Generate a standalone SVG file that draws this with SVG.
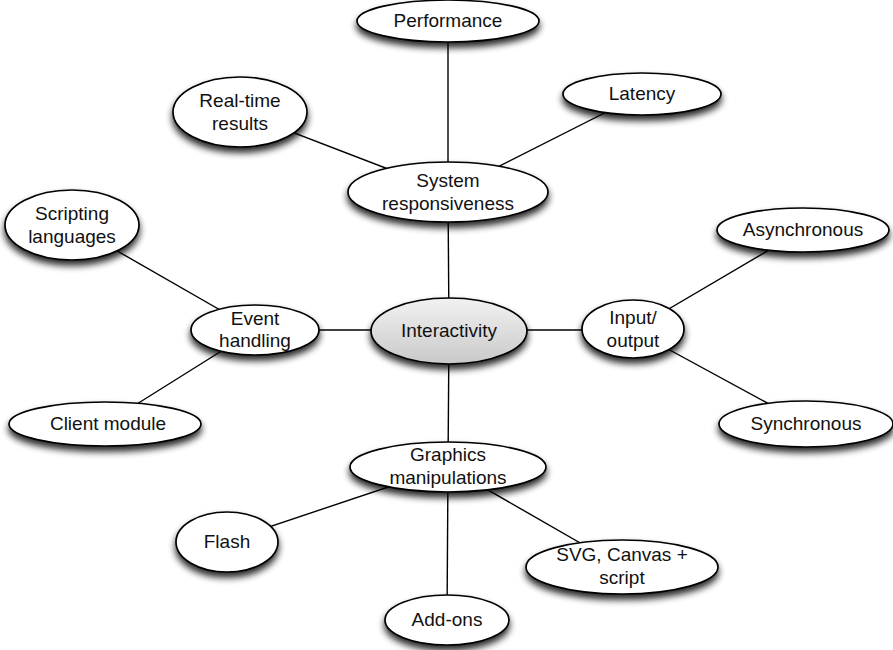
<svg xmlns="http://www.w3.org/2000/svg" width="893" height="650" viewBox="0 0 893 650">
  <defs>
    <filter id="shadow" x="-20%" y="-30%" width="140%" height="190%">
      <feGaussianBlur in="SourceAlpha" stdDeviation="3.5"/>
      <feOffset dx="0" dy="5" result="blur"/>
      <feComponentTransfer><feFuncA type="linear" slope="0.85"/></feComponentTransfer>
      <feMerge><feMergeNode/><feMergeNode in="SourceGraphic"/></feMerge>
    </filter>
    <linearGradient id="hub" x1="0" y1="0" x2="0" y2="1">
      <stop offset="0" stop-color="#f2f2f2"/>
      <stop offset="1" stop-color="#c9c9c9"/>
    </linearGradient>
  </defs>
  <style>
    .edge { stroke: #000; stroke-width: 1.4; fill: none; }
    .node ellipse { fill: #fff; stroke: #000; stroke-width: 1.7; filter: url(#shadow); }
    #interactivity ellipse { fill: url(#hub); }
    text { font-family: "Liberation Sans", Arial, sans-serif; font-size: 19px; fill: #111; text-anchor: middle; }
  </style>

  <g id="connectors">
    <line class="edge" x1="448" y1="20" x2="448" y2="192"/>
    <line class="edge" x1="240" y1="112" x2="448" y2="192"/>
    <line class="edge" x1="642" y1="94" x2="448" y2="192"/>
    <line class="edge" x1="448" y1="192" x2="449" y2="331"/>
    <line class="edge" x1="72" y1="225" x2="255" y2="330"/>
    <line class="edge" x1="105" y1="424" x2="255" y2="330"/>
    <line class="edge" x1="255" y1="330" x2="633" y2="330"/>
    <line class="edge" x1="633" y1="330" x2="803" y2="230"/>
    <line class="edge" x1="633" y1="330" x2="806" y2="424"/>
    <line class="edge" x1="449" y1="331" x2="448" y2="467"/>
    <line class="edge" x1="448" y1="467" x2="227" y2="541"/>
    <line class="edge" x1="448" y1="467" x2="622" y2="567"/>
    <line class="edge" x1="448" y1="467" x2="447" y2="620"/>
  </g>

  <g id="performance" class="node">
    <ellipse cx="448" cy="21" rx="91" ry="21"/>
    <text x="448" y="27">Performance</text>
  </g>
  <g id="realtime" class="node">
    <ellipse cx="240" cy="112" rx="67" ry="35"/>
    <text x="240" y="107">Real-time</text>
    <text x="240" y="130">results</text>
  </g>
  <g id="latency" class="node">
    <ellipse cx="642" cy="94" rx="79" ry="21"/>
    <text x="642" y="100">Latency</text>
  </g>
  <g id="system" class="node">
    <ellipse cx="448" cy="192" rx="100" ry="30"/>
    <text x="448" y="187">System</text>
    <text x="448" y="210">responsiveness</text>
  </g>
  <g id="scripting" class="node">
    <ellipse cx="72" cy="225" rx="67" ry="35"/>
    <text x="72" y="220">Scripting</text>
    <text x="72" y="243">languages</text>
  </g>
  <g id="asynchronous" class="node">
    <ellipse cx="803" cy="230" rx="86" ry="22"/>
    <text x="803" y="236">Asynchronous</text>
  </g>
  <g id="event" class="node">
    <ellipse cx="255" cy="330" rx="64" ry="25"/>
    <text x="255" y="325">Event</text>
    <text x="255" y="347">handling</text>
  </g>
  <g id="interactivity" class="node">
    <ellipse cx="449" cy="331" rx="78" ry="33"/>
    <text x="449" y="337">Interactivity</text>
  </g>
  <g id="inputoutput" class="node">
    <ellipse cx="633" cy="329" rx="51" ry="29"/>
    <text x="633" y="324">Input/</text>
    <text x="633" y="347">output</text>
  </g>
  <g id="client" class="node">
    <ellipse cx="105" cy="424" rx="96" ry="22"/>
    <text x="108" y="430">Client module</text>
  </g>
  <g id="synchronous" class="node">
    <ellipse cx="806" cy="424" rx="87" ry="23"/>
    <text x="806" y="430">Synchronous</text>
  </g>
  <g id="graphics" class="node">
    <ellipse cx="448" cy="467" rx="98" ry="25"/>
    <text x="448" y="461">Graphics</text>
    <text x="448" y="484">manipulations</text>
  </g>
  <g id="flash" class="node">
    <ellipse cx="227" cy="542" rx="51" ry="30"/>
    <text x="227" y="548">Flash</text>
  </g>
  <g id="svgcanvas" class="node">
    <ellipse cx="622" cy="567" rx="96" ry="27"/>
    <text x="622" y="561">SVG, Canvas +</text>
    <text x="622" y="584">script</text>
  </g>
  <g id="addons" class="node">
    <ellipse cx="447" cy="620" rx="62" ry="25"/>
    <text x="447" y="626">Add-ons</text>
  </g>
</svg>
